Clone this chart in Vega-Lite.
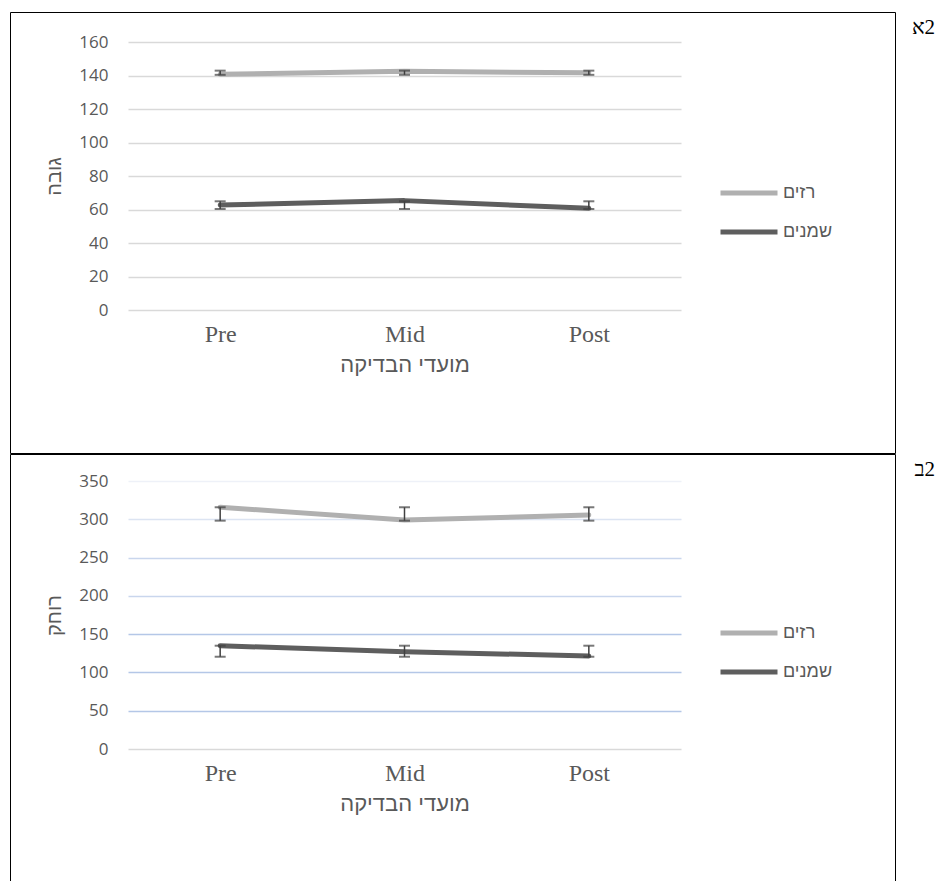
{
  "$schema": "https://vega.github.io/schema/vega-lite/v6.json",
  "padding": {"left": 9, "top": 11, "right": 0, "bottom": 0},
  "background": "white",
  "spacing": -3,
  "datasets": {
    "heightData": [
      {"time": "Pre", "group": "רזים", "value": 140.7, "lo": 140.4, "hi": 142.9},
      {"time": "Mid", "group": "רזים", "value": 142.5, "lo": 140.4, "hi": 142.9},
      {"time": "Post", "group": "רזים", "value": 141.6, "lo": 140.4, "hi": 142.9},
      {"time": "Pre", "group": "שמנים", "value": 62.7, "lo": 60.3, "hi": 64.9},
      {"time": "Mid", "group": "שמנים", "value": 65.3, "lo": 60.3, "hi": 64.9},
      {"time": "Post", "group": "שמנים", "value": 60.7, "lo": 60.3, "hi": 64.9}
    ],
    "distData": [
      {"time": "Pre", "group": "רזים", "value": 315.7, "lo": 298.2, "hi": 315.7},
      {"time": "Mid", "group": "רזים", "value": 299, "lo": 298.2, "hi": 315.7},
      {"time": "Post", "group": "רזים", "value": 305.6, "lo": 298.2, "hi": 315.7},
      {"time": "Pre", "group": "שמנים", "value": 134.9, "lo": 120.5, "hi": 134.9},
      {"time": "Mid", "group": "שמנים", "value": 127, "lo": 120.5, "hi": 134.9},
      {"time": "Post", "group": "שמנים", "value": 121.5, "lo": 120.5, "hi": 134.9}
    ]
  },
  "vconcat": [
    {
      "width": 885,
      "height": 441,
      "title": {"text": "א‎2"},
      "data": {"name": "heightData"},
      "encoding": {
        "x": {
          "field": "time", "type": "nominal", "sort": ["Pre", "Mid", "Post"],
          "scale": {"type": "point", "range": [118, 671], "padding": 0.5},
          "axis": {"title": "מועדי הבדיקה", "labelAngle": 0, "labelFont": "Liberation Serif", "labelFontSize": 24, "labelPadding": 12, "titleFont": "Liberation Sans", "titleFontSize": 22, "titlePadding": 8, "offset": -143, "grid": false}
        }
      },
      "layer": [
        {
          "mark": {"type": "line", "strokeWidth": 5, "strokeCap": "round", "strokeJoin": "round"},
          "encoding": {
            "y": {"field": "value", "type": "quantitative", "title": "גובה",
              "scale": {"domain": [0, 160], "range": [298, 30], "nice": false, "zero": false},
              "axis": {"values": [0, 20, 40, 60, 80, 100, 120, 140, 160], "labelFont": "Open Sans", "labelFontSize": 17, "labelPadding": 20, "offset": -118, "titleFont": "Liberation Sans", "titleFontSize": 20, "titlePadding": 14, "gridColor": "#d9d9d9", "gridWidth": 1.5}},
            "color": {"field": "group", "type": "nominal",
              "scale": {"domain": ["רזים", "שמנים"], "range": ["#b0b0b0", "#5e5e5e"]},
              "legend": {"title": null, "orient": "none", "legendX": 708, "legendY": 169, "symbolType": "M-1,0H5", "symbolSize": 361, "symbolStrokeWidth": 5, "labelOffset": 41, "labelFont": "Liberation Sans", "labelFontSize": 18, "labelColor": "#595959", "rowPadding": 17, "padding": 0}}
          }
        },
        {
          "mark": {"type": "rule", "color": "#404040", "strokeWidth": 1.5},
          "encoding": {"y": {"field": "lo", "type": "quantitative", "title": "גובה"}, "y2": {"field": "hi"}, "detail": {"field": "group"}}
        },
        {
          "mark": {"type": "tick", "color": "#404040", "thickness": 2, "size": 11},
          "encoding": {"y": {"field": "lo", "type": "quantitative", "title": "גובה"}}
        },
        {
          "mark": {"type": "tick", "color": "#404040", "thickness": 2, "size": 11},
          "encoding": {"y": {"field": "hi", "type": "quantitative", "title": "גובה"}}
        }
      ]
    },
    {
      "width": 885,
      "height": 441,
      "title": {"text": "ב‎2"},
      "data": {"name": "distData"},
      "encoding": {
        "x": {
          "field": "time", "type": "nominal", "sort": ["Pre", "Mid", "Post"],
          "scale": {"type": "point", "range": [118, 671], "padding": 0.5},
          "axis": {"title": "מועדי הבדיקה", "labelAngle": 0, "labelFont": "Liberation Serif", "labelFontSize": 24, "labelPadding": 12, "titleFont": "Liberation Sans", "titleFontSize": 22, "titlePadding": 8, "offset": -146, "grid": false}
        }
      },
      "layer": [
        {
          "mark": {"type": "line", "strokeWidth": 5, "strokeCap": "round", "strokeJoin": "round"},
          "encoding": {
            "y": {"field": "value", "type": "quantitative", "title": "רוחק",
              "scale": {"domain": [0, 350], "range": [295, 27], "nice": false, "zero": false},
              "axis": {"values": [0, 50, 100, 150, 200, 250, 300, 350], "labelFont": "Open Sans", "labelFontSize": 17, "labelPadding": 20, "offset": -118, "titleFont": "Liberation Sans", "titleFontSize": 20, "titlePadding": 14, "gridWidth": 1.5,
                "gridColor": {"condition": [
                  {"test": "datum.value === 0", "value": "#d9d9d9"},
                  {"test": "datum.value >= 350", "value": "#eef1f8"},
                  {"test": "datum.value >= 300", "value": "#dce4f2"},
                  {"test": "datum.value >= 200", "value": "#c9d6ed"}
                ], "value": "#b4c7e7"}}},
            "color": {"field": "group", "type": "nominal",
              "scale": {"domain": ["רזים", "שמנים"], "range": ["#b0b0b0", "#5e5e5e"]},
              "legend": {"title": null, "orient": "none", "legendX": 708, "legendY": 167, "symbolType": "M-1,0H5", "symbolSize": 361, "symbolStrokeWidth": 5, "labelOffset": 41, "labelFont": "Liberation Sans", "labelFontSize": 18, "labelColor": "#595959", "rowPadding": 17, "padding": 0}}
          }
        },
        {
          "mark": {"type": "rule", "color": "#404040", "strokeWidth": 1.5},
          "encoding": {"y": {"field": "lo", "type": "quantitative", "title": "רוחק"}, "y2": {"field": "hi"}, "detail": {"field": "group"}}
        },
        {
          "mark": {"type": "tick", "color": "#404040", "thickness": 2, "size": 11},
          "encoding": {"y": {"field": "lo", "type": "quantitative", "title": "רוחק"}}
        },
        {
          "mark": {"type": "tick", "color": "#404040", "thickness": 2, "size": 11},
          "encoding": {"y": {"field": "hi", "type": "quantitative", "title": "רוחק"}}
        }
      ]
    }
  ],
  "resolve": {"scale": {"color": "independent"}, "legend": {"color": "independent"}},
  "config": {
    "view": {"stroke": "#000000", "strokeWidth": 1},
    "axis": {"labelColor": "#595959", "titleColor": "#595959", "domain": false, "ticks": false, "tickSize": 0, "titleFontWeight": "normal"},
    "title": {"font": "Liberation Serif", "fontSize": 21, "fontWeight": "normal", "color": "#000000", "anchor": "end", "frame": "group", "dx": 40, "dy": 30}
  }
}
